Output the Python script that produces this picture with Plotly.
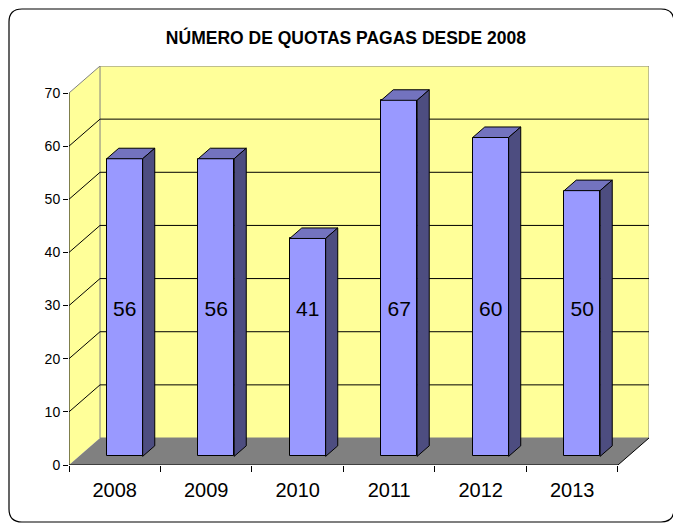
import plotly.graph_objects as go

# ---- data ----
years = ["2008", "2009", "2010", "2011", "2012", "2013"]
quotas = [56, 56, 41, 67, 60, 50]
y_ticks = [0, 10, 20, 30, 40, 50, 60, 70]
title_text = "NÚMERO DE QUOTAS PAGAS DESDE 2008"

# ---- 3D projection parameters (axis units) ----
DX = 0.339      # full depth, x units
DY = 5.08       # full depth, value units
F0, F1 = 0.32, 0.71   # bar front/back depth fractions
W = 0.393       # bar width
YMAX = 70
LABEL_LEVEL = 29

WALL = "#FFFF99"
FLOOR = "#808080"
EDGE = "#808080"
FRONT = "#9999FF"
TOP = "#7373BF"
SIDE = "#4D4D80"
FONT = "Liberation Sans, Arial, sans-serif"

n = len(years)
xl, xr = -0.5, n - 0.5

fig = go.Figure()
shapes = []

def poly(pts):
    return "M " + " L ".join(f"{x},{y}" for x, y in pts) + " Z"

# left side wall
shapes.append(dict(type="path", xref="x", yref="y", layer="below",
                   path=poly([(xl, 0), (xl, YMAX), (xl + DX, YMAX + DY), (xl + DX, DY)]),
                   fillcolor=WALL, line=dict(width=0)))
# back wall
shapes.append(dict(type="path", xref="x", yref="y", layer="below",
                   path=poly([(xl + DX, DY), (xl + DX, YMAX + DY), (xr + DX, YMAX + DY), (xr + DX, DY)]),
                   fillcolor=WALL, line=dict(color=EDGE, width=1)))
# gridlines
for v in y_ticks[1:-1]:
    shapes.append(dict(type="line", xref="x", yref="y", layer="below",
                       x0=xl, y0=v, x1=xl + DX, y1=v + DY, line=dict(color="black", width=1)))
    shapes.append(dict(type="line", xref="x", yref="y", layer="below",
                       x0=xl + DX, y0=v + DY, x1=xr + DX, y1=v + DY, line=dict(color="black", width=1)))
# top diagonal of left wall
shapes.append(dict(type="line", xref="x", yref="y", layer="below",
                   x0=xl, y0=YMAX, x1=xl + DX, y1=YMAX + DY, line=dict(color=EDGE, width=1)))
# floor
shapes.append(dict(type="path", xref="x", yref="y", layer="below",
                   path=poly([(xl, 0), (xr, 0), (xr + DX, DY), (xl + DX, DY)]),
                   fillcolor=FLOOR, line=dict(width=0)))
shapes.append(dict(type="path", xref="x", yref="y", layer="below",
                   path=f"M {xl},0 L {xr},0 L {xr + DX},{DY}",
                   line=dict(color="black", width=1)))
# y axis line
shapes.append(dict(type="line", xref="x", yref="y", layer="below",
                   x0=xl, y0=0, x1=xl, y1=YMAX, line=dict(color="black", width=1)))

# outer rounded border (pixel coords relative to plot origin)
L, R, T, B, r = -60, 605, 456, -57, 13
border = (f"M {L + r},{T} L {R - r},{T} Q {R},{T} {R},{T - r} L {R},{B + r} Q {R},{B} {R - r},{B} "
          f"L {L + r},{B} Q {L},{B} {L},{B + r} L {L},{T - r} Q {L},{T} {L + r},{T} Z")
shapes.append(dict(type="path", xref="paper", yref="paper", xsizemode="pixel", ysizemode="pixel",
                   xanchor=0, yanchor=0, path=border, line=dict(color="black", width=1.2),
                   layer="above"))

# bars: front faces
xc = [i + DX * F0 for i in range(n)]
base = DY * F0
fig.add_trace(go.Bar(x=xc, y=quotas, base=base, width=W,
                     marker=dict(color=FRONT, line=dict(color="black", width=1)),
                     hoverinfo="skip", showlegend=False))

ddx = DX * (F1 - F0)
ddy = DY * (F1 - F0)
for i, v in enumerate(quotas):
    x0 = xc[i] - W / 2
    x1 = xc[i] + W / 2
    y0 = base
    y1 = base + v
    # top face
    fig.add_trace(go.Scatter(x=[x0, x1, x1 + ddx, x0 + ddx, x0], y=[y1, y1, y1 + ddy, y1 + ddy, y1],
                             fill="toself", fillcolor=TOP, mode="lines",
                             line=dict(color="black", width=1), hoverinfo="skip", showlegend=False))
    # side face
    fig.add_trace(go.Scatter(x=[x1, x1 + ddx, x1 + ddx, x1, x1], y=[y0, y0 + ddy, y1 + ddy, y1, y0],
                             fill="toself", fillcolor=SIDE, mode="lines",
                             line=dict(color="black", width=1), hoverinfo="skip", showlegend=False))

# value labels
fig.add_trace(go.Scatter(x=xc, y=[LABEL_LEVEL] * n, mode="text", text=[str(v) for v in quotas],
                         textfont=dict(family=FONT, size=21, color="black"),
                         hoverinfo="skip", showlegend=False))

fig.update_layout(
    width=673, height=524,
    margin=dict(l=69, r=24, t=66, b=59),
    paper_bgcolor="white", plot_bgcolor="rgba(0,0,0,0)",
    title=dict(text=f"<b>{title_text}</b>", x=0.514, xref="container", xanchor="center",
               y=1 - 38 / 524, yref="container", yanchor="middle",
               font=dict(family=FONT, size=17.5, color="black")),
    shapes=shapes,
    xaxis=dict(range=[xl, xr + DX], tickvals=list(range(n)), ticktext=years,
               ticks="", showgrid=False, zeroline=False, showline=False,
               tickfont=dict(family=FONT, size=20, color="black"), ticklabelstandoff=11,
               fixedrange=True),
    xaxis2=dict(range=[xl, xr + DX], overlaying="x", anchor="y", side="bottom",
                tickvals=[i - 0.5 for i in range(n + 1)], ticks="outside", ticklen=6,
                tickcolor="black", showticklabels=False, showgrid=False, zeroline=False,
                showline=False),
    yaxis=dict(range=[0, YMAX + DY], tickvals=y_ticks, ticks="outside", ticklen=5,
               tickcolor="black", showgrid=False, zeroline=False, showline=False,
               tickfont=dict(family=FONT, size=14, color="black"), fixedrange=True),
    bargap=0,
)
# dummy trace to show xaxis2
fig.add_trace(go.Scatter(x=[xl], y=[0], xaxis="x2", mode="markers", marker=dict(opacity=0),
                         hoverinfo="skip", showlegend=False))

fig.write_html("out.html", config={"displayModeBar": False},
               post_script="document.body.style.margin='0';document.body.style.overflow='hidden';")
